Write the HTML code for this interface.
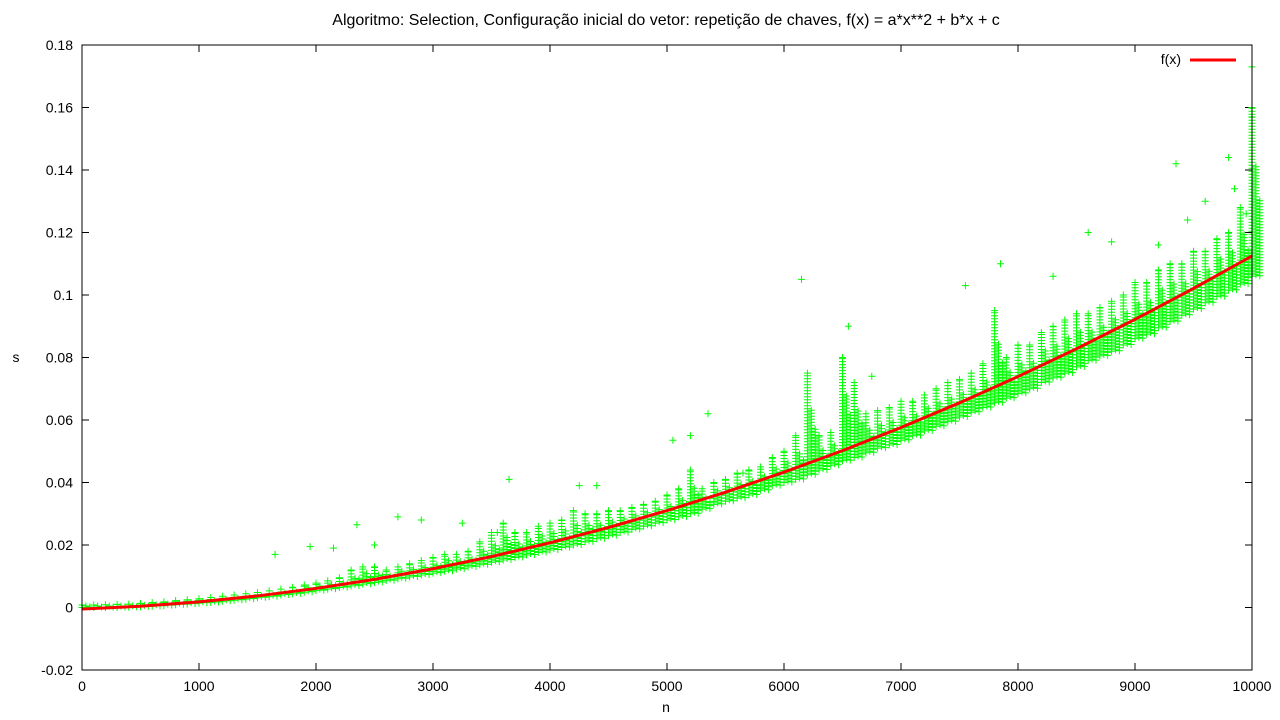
<!DOCTYPE html>
<html><head><meta charset="utf-8"><style>
body{margin:0;background:#fff;}
svg{display:block;font-family:"Liberation Sans",Arial,sans-serif;}
</style></head><body>
<svg id="chart" width="1280" height="720">
<text x="666" y="25" font-size="16" text-anchor="middle">Algoritmo: Selection, Configuração inicial do vetor: repetição de chaves, f(x) = a*x**2 + b*x + c</text>
<text x="666" y="712" font-size="14" text-anchor="middle">n</text>
<text x="16" y="362" font-size="14" text-anchor="middle">s</text>
<g id="axes"></g>
<g id="points"></g>
<g id="fit"></g>
<rect x="82" y="45" width="1170" height="625" fill="none" stroke="#000" stroke-width="1"/>
<g>
<text x="1181" y="64" font-size="14" text-anchor="end">f(x)</text>
<line x1="1190" y1="60" x2="1236" y2="60" stroke="#f00" stroke-width="3"/>
</g>
</svg>
<script>
const xTicks=[0,1000,2000,3000,4000,5000,6000,7000,8000,9000,10000];
const yTicks=[-0.02,0,0.02,0.04,0.06,0.08,0.1,0.12,0.14,0.16,0.18];
const yTickLabels=["-0.02","0","0.02","0.04","0.06","0.08","0.1","0.12","0.14","0.16","0.18"];
const fitN=[0,500,1000,1500,2000,2500,3000,3500,4000,4500,5000,5500,6000,6500,7000,7500,8000,8500,9000,9500,10000];
const fitS=[-0.0005,0.0004,0.0018,0.0037,0.0061,0.009,0.0124,0.0163,0.0207,0.0256,0.031,0.0369,0.0433,0.0502,0.0576,0.0655,0.0739,0.0828,0.0922,0.1021,0.1125];
const bandN=[0,100,200,300,400,500,600,700,800,900,1000,1100,1200,1300,1400,1500,1600,1700,1800,1900,2000,2100,2200,2300,2400,2500,2600,2700,2800,2900,3000,3100,3200,3300,3400,3500,3600,3700,3800,3900,4000,4100,4200,4300,4400,4500,4600,4700,4800,4900,5000,5100,5200,5300,5400,5500,5600,5700,5800,5900,6000,6100,6200,6300,6400,6500,6600,6700,6800,6900,7000,7100,7200,7300,7400,7500,7600,7700,7800,7900,8000,8100,8200,8300,8400,8500,8600,8700,8800,8900,9000,9100,9200,9300,9400,9500,9600,9700,9800,9900,10000];
const bandLowMs=[0,0,0,0,0.1,0.2,0.4,0.6,0.9,1.1,1.4,1.6,2.0,2.3,2.7,3.1,3.5,4.0,4.4,4.9,5.4,5.9,6.4,6.9,7.5,8,8.6,9.2,9.8,10.4,11,11.6,12.3,13,13.7,14.5,15.2,16,16.8,17.6,18.4,19.2,20,21,22,23,24,25,26,27,28,29,30,31.5,33,34,35,36,37.5,39,40,41,42.5,44,45.5,47,48,49.5,51,52,53.5,55,56.5,58,59.5,61,62.5,64,65.5,67,68.5,70,72,73.5,75,77,79,80.5,82,84,86,87.5,89.5,91.5,93.5,95.5,97.5,99.5,101.5,103.5,106];
const bandHighMs=[0.8,0.8,0.9,1,1.1,1.3,1.6,1.8,2.2,2.5,2.8,3.2,3.6,4,4.4,4.8,5.3,5.9,6.5,7.2,7.8,8.5,9.5,12,13,13,12,13,14,15,16,17,17,18,21,24,27,24,24,26,27,28,31,30,30,31,31,32,33,34,36,38,44,38,40,41,43,44,45,48,50,55,75,55,56,80,72,62,63,64,66,66,68,70,72,73,75,78,95,80,84,84,88,90,92,94,94,96,98,100,104,104,108,110,110,114,114,118,120,128,160];
const outN=[1650,1950,2150,2350,2500,2700,2900,3250,3550,3650,4250,4400,5050,5200,5350,5650,6150,6550,6750,7550,7850,8300,8600,8800,9350,9450,9600,9800,9850,10000,10000,9200,9950];
const outMs=[17,19.5,19,26.5,20,29,28,27,24,41,39,39,53.5,55,62,43,105,90,74,103,110,106,120,117,142,124,130,144,134,173,157,116,126];

const X0=82,X1=1252,Y0=670,Y1=45;
const xs=v=>X0+(v-0)/(10000-0)*(X1-X0);
const ys=v=>Y0-(v-(-0.02))/(0.18-(-0.02))*(Y0-Y1);
const NS="http://www.w3.org/2000/svg";
function mk(tag,attrs,parent){const e=document.createElementNS(NS,tag);for(const k in attrs)e.setAttribute(k,attrs[k]);parent.appendChild(e);return e;}
const axes=document.getElementById('axes');
xTicks.forEach(t=>{const x=xs(t);
 let l=mk('path',{d:`M${x},${Y0}v-7M${x},${Y1}v7`,stroke:'#000'},axes);
 
 
 let tx=mk('text',{x:x,y:691,'font-size':14,'text-anchor':'middle'},axes);tx.textContent=t;
 
 
});
yTicks.forEach((t,i)=>{const y=ys(t);
 let l=mk('path',{d:`M${X0},${y}h7M${X1},${y}h-7`,stroke:'#000'},axes);
 
 
 let tx=mk('text',{x:73,y:y+5,'font-size':14,'text-anchor':'end'},axes);tx.textContent=yTickLabels[i];
 
 
});
const pts=document.getElementById('points');
let d='';
function cross(x,y){d+=`M${(x-3.5).toFixed(1)},${y.toFixed(1)}h7M${x.toFixed(1)},${(y-3.5).toFixed(1)}v7`;}
bandN.forEach((n,i)=>{const x=xs(n);const yl=ys(bandLowMs[i]/1000),yh=ys(bandHighMs[i]/1000);
 const span=yl-yh;
 for(let y=yl;y>=yh;y-=3)cross(x,y);cross(x,yh);
 for(let y=yl-1.5;y>=yh+span*0.35;y-=3)cross(x+3.9,y);
 for(let y=yl-0.5;y>=yh+span*0.55;y-=3)cross(x+7.8,y);
});
outN.forEach((n,i)=>cross(xs(n),ys(outMs[i]/1000)));
const p=mk('path',{d:d,stroke:'#00ff00','stroke-width':1,fill:'none'},pts);


const fit=document.getElementById('fit');
const fl=mk('polyline',{points:fitN.map((n,i)=>xs(n)+','+ys(fitS[i])).join(' '),stroke:'#f00','stroke-width':3,fill:'none'},fit);


</script>
</body></html>
